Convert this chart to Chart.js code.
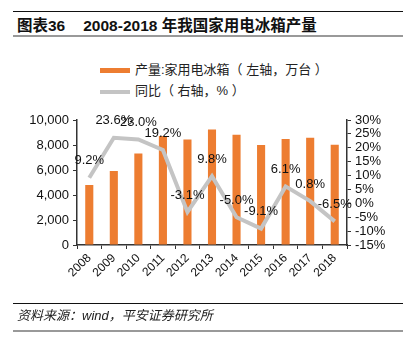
<!DOCTYPE html>
<html>
<head>
<meta charset="utf-8">
<script src="https://cdn.jsdelivr.net/npm/chart.js"></script>
<style>
  body { margin:0; width:405px; height:341px; position:relative; background:#fff;
         font-family:"Liberation Sans","Noto Sans CJK SC",sans-serif; overflow:hidden; }
  .rule { position:absolute; left:13px; width:390px; }
  #title { position:absolute; left:17px; top:13px; font-size:15.5px; font-weight:bold; color:#111;
           font-family:"Liberation Sans","Noto Sans CJK SC",sans-serif; white-space:nowrap; }
  #title span { margin-left:18px; }
  .leg { position:absolute; left:100px; font-size:13px; color:#222; white-space:nowrap;
         font-family:"Liberation Sans","Noto Sans CJK SC",sans-serif; }
  .leg i { display:inline-block; width:30px; vertical-align:middle; margin-right:5px; }
  #source { position:absolute; left:17px; top:305px; font-size:13px; font-style:italic; color:#222;
            font-family:"Liberation Sans","Noto Sans CJK SC",sans-serif; }
  #c { position:absolute; left:0; top:0; }
</style>
</head>
<body>
<div class="rule" style="top:11px;border-top:1.5px solid #111"></div>
<div id="title">图表36<span>2008-2018 年我国家用电冰箱产量</span></div>
<div class="rule" style="top:35px;border-top:2px solid #999"></div>
<div class="leg" style="top:59px"><i style="height:5px;background:#ED7D31"></i>产量:家用电冰箱（ 左轴，万台 ）</div>
<div class="leg" style="top:80px"><i style="height:4px;background:#c4c4c4"></i>同比（ 右轴，% ）</div>
<canvas id="c" width="405" height="341"></canvas>
<div class="rule" style="top:303px;border-top:1.5px solid #111"></div>
<div id="source">资料来源：wind，平安证券研究所</div>
<div class="rule" style="top:330px;border-top:2px solid #999"></div>
<script>
const years = ['2008','2009','2010','2011','2012','2013','2014','2015','2016','2017','2018'];
const output = [4800, 5920, 7330, 8720, 8450, 9250, 8830, 8000, 8480, 8590, 8030];
const yoy = [9.2, 23.6, 23.0, 19.2, -3.1, 9.8, -5.0, -9.1, 6.1, 0.8, -6.5];

const pointLabels = {
  id: 'pointLabels',
  afterDatasetsDraw(chart) {
    const ctx = chart.ctx;
    const meta = chart.getDatasetMeta(1);
    ctx.save();
    ctx.font = '13px "Liberation Sans", Arial, sans-serif';
    ctx.fillStyle = '#111';
    ctx.textAlign = 'center';
    ctx.textBaseline = 'middle';
    meta.data.forEach((pt, i) => {
      ctx.fillText(yoy[i].toFixed(1) + '%', pt.x, pt.y - 17);
    });
    ctx.restore();
  }
};

new Chart(document.getElementById('c'), {
  data: {
    labels: years,
    datasets: [{
      type: 'bar',
      label: '产量:家用电冰箱（左轴，万台）',
      data: output,
      backgroundColor: '#ED7D31',
      barPercentage: 0.33,
      categoryPercentage: 1,
      yAxisID: 'y',
      order: 1
    }, {
      type: 'line',
      label: '同比（右轴，%）',
      data: yoy,
      borderColor: '#c4c4c4',
      borderWidth: 4,
      pointRadius: 0,
      tension: 0,
      yAxisID: 'y1',
      order: 0
    }]
  },
  options: {
    responsive: false,
    animation: false,
    layout: { padding: { top: 120, left: 0, right: 0, bottom: 0 } },
    plugins: { legend: { display: false }, tooltip: { enabled: false } },
    scales: {
      x: {
        offset: true,
        afterFit: s => { s.height = 96; },
        grid: { drawOnChartArea: false, offset: true, tickLength: 4, color: '#333' },
        border: { color: '#333', width: 1.5 },
        ticks: { autoSkip: false, minRotation: 45, maxRotation: 45, color: '#111', padding: 2,
                 font: { size: 12, family: '"Liberation Sans", Arial, sans-serif' } }
      },
      y: {
        position: 'left',
        min: 0, max: 10000,
        afterFit: s => { s.width = 77; },
        grid: { drawOnChartArea: false, tickLength: 4, color: '#333' },
        border: { color: '#333', width: 1.5 },
        ticks: { autoSkip: false, stepSize: 2000, color: '#111', padding: 4,
                 callback: v => v.toLocaleString('en-US'),
                 font: { size: 13, family: '"Liberation Sans", Arial, sans-serif' } }
      },
      y1: {
        position: 'right',
        min: -15, max: 30,
        afterFit: s => { s.width = 58; },
        grid: { drawOnChartArea: false, tickLength: 4, color: '#333' },
        border: { color: '#333', width: 1.5 },
        ticks: { autoSkip: false, stepSize: 5, color: '#111', padding: 4,
                 callback: v => v + '%',
                 font: { size: 13, family: '"Liberation Sans", Arial, sans-serif' } }
      }
    }
  },
  plugins: [pointLabels]
});
</script>
</body>
</html>
